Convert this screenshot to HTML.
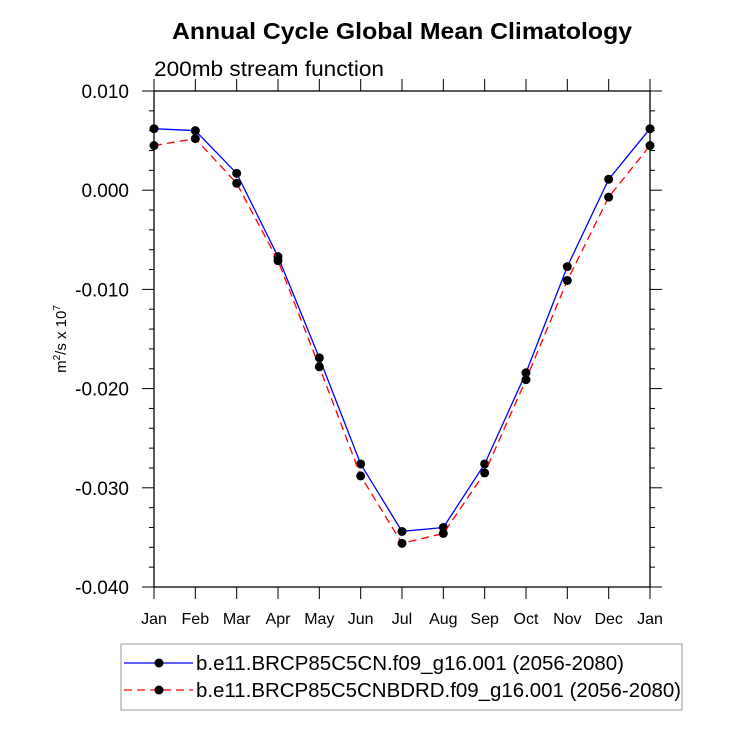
<!DOCTYPE html>
<html><head><meta charset="utf-8"><style>
body{margin:0;background:#fff}
svg text{font-family:"Liberation Sans",sans-serif;fill:#000}
</style></head><body>
<svg id="c" width="730" height="730" xmlns="http://www.w3.org/2000/svg">
<text x="172" y="39" font-size="23" font-weight="bold" textLength="460" lengthAdjust="spacingAndGlyphs">Annual Cycle Global Mean Climatology</text>
<text x="154" y="76" font-size="21" textLength="230" lengthAdjust="spacingAndGlyphs">200mb stream function</text>
<text transform="translate(66,339) rotate(-90)" text-anchor="middle" font-size="15">m<tspan dy="-6" font-size="10">2</tspan><tspan dy="6">/s x 10</tspan><tspan dy="-6" font-size="10">7</tspan></text>
<g id="axes"></g>
<g id="series"></g>
<g>
<rect x="121" y="644" width="561" height="66" fill="#fff" stroke="#999" stroke-width="1"/>
<line x1="124" y1="663" x2="193" y2="663" stroke="#00f" stroke-width="1.3"/>
<circle cx="159" cy="663" r="4.5" fill="#000"/>
<text x="196" y="670" font-size="20" textLength="428" lengthAdjust="spacingAndGlyphs">b.e11.BRCP85C5CN.f09_g16.001 (2056-2080)</text>
<line x1="124" y1="690" x2="193" y2="690" stroke="#f00" stroke-width="1.3" stroke-dasharray="8,5"/>
<circle cx="159" cy="690" r="4.5" fill="#000"/>
<text x="196" y="697" font-size="20" textLength="485" lengthAdjust="spacingAndGlyphs">b.e11.BRCP85C5CNBDRD.f09_g16.001 (2056-2080)</text>
</g>
</svg>
<script>
const months=["Jan","Feb","Mar","Apr","May","Jun","Jul","Aug","Sep","Oct","Nov","Dec","Jan"];
const seriesCN=[0.0062,0.0060,0.0017,-0.0067,-0.0169,-0.0276,-0.0344,-0.0340,-0.0276,-0.0184,-0.0077,0.0011,0.0062];
const seriesBDRD=[0.0045,0.0052,0.0007,-0.0071,-0.0178,-0.0288,-0.0356,-0.0346,-0.0285,-0.0191,-0.0091,-0.0007,0.0045];
const yTicks=[0.010,0.000,-0.010,-0.020,-0.030,-0.040];
const yTickLabels=["0.010","0.000","-0.010","-0.020","-0.030","-0.040"];
const NS="http://www.w3.org/2000/svg";
const L=154,R=650,T=91,B=587,yMax=0.010,yMin=-0.040;
const xs=i=>L+(R-L)*i/(months.length-1);
const ys=v=>T+(yMax-v)/(yMax-yMin)*(B-T);
function mk(t,a,p){const e=document.createElementNS(NS,t);for(const k in a)e.setAttribute(k,a[k]);p.appendChild(e);return e;}
const ax=document.getElementById('axes');
const fr=mk('rect',{x:L,y:T,width:R-L,height:B-T,fill:'none',stroke:'#000','stroke-width':1.3},ax);


for(let v=yMin;v<=yMax+1e-9;v+=0.002){
  const y=ys(v);const maj=Math.abs(Math.round(v*1000)%10)<0.5;const len=maj?12:5;
  mk('line',{x1:L-len,y1:y,x2:L,y2:y,stroke:'#000','stroke-width':1},ax);
  mk('line',{x1:R,y1:y,x2:R+len,y2:y,stroke:'#000','stroke-width':1},ax);
}
yTicks.forEach((v,i)=>{const t=mk('text',{x:L-25,y:ys(v)+7,'text-anchor':'end','font-size':19},ax);t.textContent=yTickLabels[i];

});
months.forEach((m,i)=>{const x=xs(i);
  mk('line',{x1:x,y1:B,x2:x,y2:B+12,stroke:'#000','stroke-width':1},ax);
  mk('line',{x1:x,y1:T-12,x2:x,y2:T,stroke:'#000','stroke-width':1},ax);
  const t=mk('text',{x:x,y:B+37,'text-anchor':'middle','font-size':16},ax);t.textContent=m;
  
  });
const sg=document.getElementById('series');
function draw(data,color,dash,name){
  const pl=mk('polyline',{points:data.map((v,i)=>xs(i)+','+ys(v)).join(' '),fill:'none',stroke:color,'stroke-width':1.3,'stroke-dasharray':dash},sg);
  
  
  data.forEach((v,i)=>{const c=mk('circle',{cx:xs(i),cy:ys(v),r:4.5,fill:'#000'},sg);
  
  });
}
draw(seriesCN,'#00f','none','cn');
draw(seriesBDRD,'#f00','8,5','cnbdrd');
</script>
</body></html>
